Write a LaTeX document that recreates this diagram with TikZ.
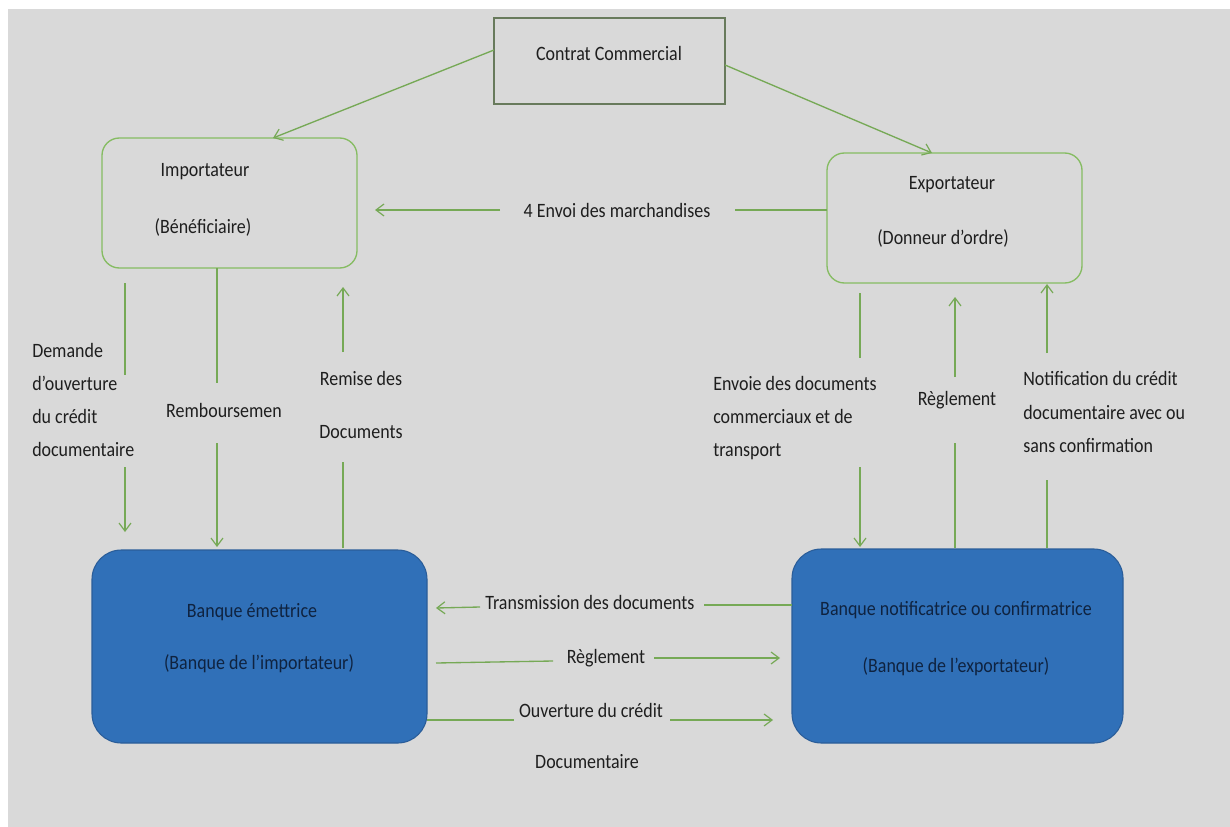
\documentclass[tikz,border=0pt]{standalone}
\usepackage{fontspec}
\setmainfont{Carlito}[FakeStretch=0.88]
\usetikzlibrary{arrows.meta}
\definecolor{bg}{HTML}{D9D9D9}
\definecolor{gline}{HTML}{76A956}
\definecolor{gbox}{HTML}{86BC62}
\definecolor{cbord}{HTML}{687A5C}
\definecolor{bfill}{HTML}{3070B8}
\definecolor{bbord}{HTML}{2A5D99}
\definecolor{btext}{HTML}{0F2340}
\definecolor{ttext}{HTML}{1E1E1E}
\tikzset{
  lbl/.style={inner sep=0pt, font=\fontsize{15.3}{17}\selectfont, text=ttext},
  mlbl/.style={lbl, align=left, font=\fontsize{15.3}{24.8}\selectfont},
  blbl/.style={lbl, text=btext},
  cbox/.style={draw=cbord, line width=1.1pt, fill=bg, minimum width=173.25pt, minimum height=64.5pt, inner sep=0pt},
  gbx/.style={draw=gbox, line width=1pt, rounded corners=13pt, minimum width=191.25pt, minimum height=97.5pt, inner sep=0pt},
  bankbox/.style={draw=bbord, line width=0.8pt, fill=bfill, rounded corners=22pt, inner sep=0pt},
  ln/.style={draw=gline, line width=1pt},
  arr/.style={ln, -{Straight Barb[length=6pt,width=9pt,line width=0.9pt]}}
}
\begin{document}
\begin{tikzpicture}[x=0.75pt,y=-0.75pt]
\useasboundingbox (0,0) rectangle (1230,827);
\fill[white] (0,0) rectangle (1230,827);
\fill[bg] (8,9) rectangle (1230,827);

% boxes
\node[cbox] (contrat) at (609.5,61) {};
\node[lbl] (contratT) at (609,53) {Contrat Commercial};

\node[gbx] (imp) at (229.5,203) {};
\node[lbl] (impA) at (205,172) {Importateur};
\node[lbl] (impB) at (203,227) {(Bénéficiaire)};

\node[gbx] (exp) at (954.5,218) {};
\node[lbl] (expA) at (952,185) {Exportateur};
\node[lbl] (expB) at (943,238) {(Donneur d’ordre)};

\node[bankbox, minimum width=251.25pt, minimum height=144.75pt] (be) at (259.5,646.5) {};
\node[blbl] (beA) at (252,612) {Banque émettrice};
\node[blbl] (beB) at (259,664) {(Banque de l’importateur)};

\node[bankbox, minimum width=248.25pt, minimum height=145.5pt] (bn) at (957.5,646) {};
\node[blbl] (bnA) at (956,610) {Banque notificatrice ou confirmatrice};
\node[blbl] (bnB) at (956,667) {(Banque de l’exportateur)};

% labels
\node[lbl] (envoi) at (617,210) {4 Envoi des marchandises};
\node[mlbl, anchor=west] (dem) at (32,400) {Demande\\d’ouverture\\du crédit\\documentaire};
\node[lbl] (remb) at (224,410) {Remboursemen};
\node[lbl, align=center, font=\fontsize{15.3}{40}\selectfont] (remise) at (361,405) {Remise des\\Documents};
\node[mlbl, anchor=west] (envd) at (713,418) {Envoie des documents\\commerciaux et de\\transport};
\node[lbl] (regl1) at (957,400) {Règlement};
\node[mlbl, anchor=west] (notif) at (1023,412) {Notification du crédit\\documentaire avec ou\\sans confirmation};
\node[lbl] (trans) at (590,602) {Transmission des documents};
\node[lbl] (regl2) at (606,658) {Règlement};
\node[lbl] (ouv) at (591,710) {Ouverture du crédit};
\node[lbl] (ouvB) at (587,762) {Documentaire};

% connector end points
\coordinate (c1) at (494,50);   \coordinate (c2) at (273,138);
\coordinate (c3) at (725,65);   \coordinate (c4) at (932,153);
\coordinate (e1) at (827,210);  \coordinate (e2) at (735,210);
\coordinate (e3) at (500,210);  \coordinate (e4) at (375,210);
\coordinate (a1) at (125,283);  \coordinate (a2) at (125,375);
\coordinate (a3) at (125,467);  \coordinate (a4) at (125,532);
\coordinate (b1) at (217,268);  \coordinate (b2) at (217,383);
\coordinate (b3) at (217,443);  \coordinate (b4) at (217,547);
\coordinate (r1) at (343,548);  \coordinate (r2) at (343,462);
\coordinate (r3) at (343,352);  \coordinate (r4) at (343,287);
\coordinate (d1) at (860,293);  \coordinate (d2) at (860,358);
\coordinate (d3) at (860,467);  \coordinate (d4) at (860,547);
\coordinate (g1) at (955,548);  \coordinate (g2) at (955,443);
\coordinate (g3) at (955,377);  \coordinate (g4) at (955,297);
\coordinate (n1) at (1047,548); \coordinate (n2) at (1047,480);
\coordinate (n3) at (1047,353); \coordinate (n4) at (1047,284);
\coordinate (t1) at (792,605);  \coordinate (t2) at (704,605);
\coordinate (t3) at (480,607);  \coordinate (t4) at (436,608);
\coordinate (s1) at (436,663);  \coordinate (s2) at (553,661);
\coordinate (s3) at (654,658);  \coordinate (s4) at (780,658);
\coordinate (o1) at (427,720);  \coordinate (o2) at (514,720);
\coordinate (o3) at (670,720);  \coordinate (o4) at (773,720);

\draw[arr] (c1) -- (c2);
\draw[arr] (c3) -- (c4);
\draw[ln] (e1) -- (e2); \draw[arr] (e3) -- (e4);
\draw[ln] (a1) -- (a2); \draw[arr] (a3) -- (a4);
\draw[ln] (b1) -- (b2); \draw[arr] (b3) -- (b4);
\draw[ln] (r1) -- (r2); \draw[arr] (r3) -- (r4);
\draw[ln] (d1) -- (d2); \draw[arr] (d3) -- (d4);
\draw[ln] (g1) -- (g2); \draw[arr] (g3) -- (g4);
\draw[ln] (n1) -- (n2); \draw[arr] (n3) -- (n4);
\draw[ln] (t1) -- (t2); \draw[arr] (t3) -- (t4);
\draw[ln] (s1) -- (s2); \draw[arr] (s3) -- (s4);
\draw[ln] (o1) -- (o2); \draw[arr] (o3) -- (o4);
\end{tikzpicture}
\end{document}
